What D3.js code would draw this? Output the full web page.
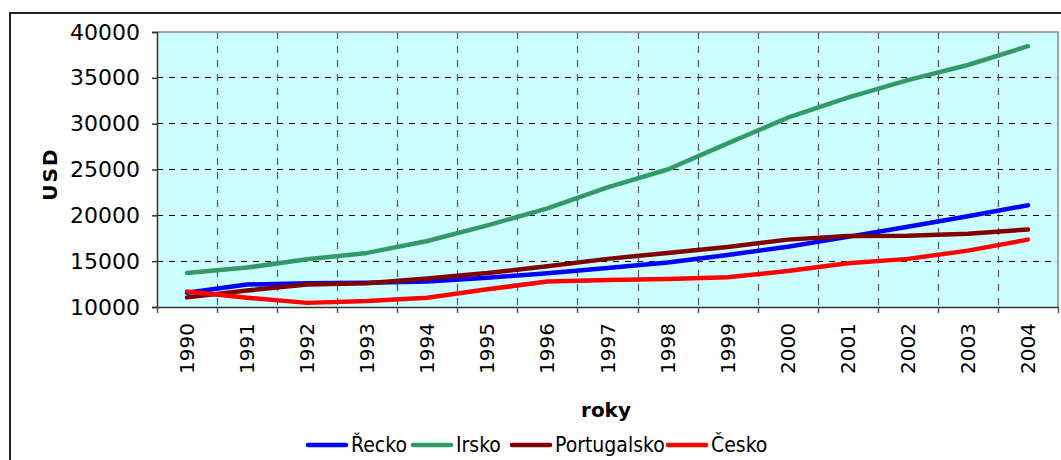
<!DOCTYPE html>
<html>
<head>
<meta charset="utf-8">
<script src="https://cdn.jsdelivr.net/npm/d3@7"></script>
<style>
  html, body { margin: 0; padding: 0; background: #fff; }
  svg { display: block; }
  text { font-family: "DejaVu Sans", Verdana, sans-serif; fill: #000; }
</style>
</head>
<body>
<svg id="chart" width="1061" height="460"></svg>
<script>
const years = ["1990","1991","1992","1993","1994","1995","1996","1997","1998","1999","2000","2001","2002","2003","2004"];
const recko =       [11550, 12450, 12580, 12650, 12780, 13200, 13680, 14250, 14850, 15680, 16580, 17650, 18750, 19900, 21100];
const irsko =       [13700, 14300, 15200, 15900, 17200, 18900, 20750, 23050, 25000, 27850, 30650, 32850, 34750, 36400, 38450];
const portugalsko = [11050, 11800, 12450, 12600, 13100, 13700, 14450, 15250, 15900, 16550, 17350, 17750, 17780, 18000, 18450];
const cesko =       [11680, 11020, 10450, 10650, 11020, 11930, 12780, 12950, 13050, 13240, 13930, 14780, 15250, 16150, 17350];
const yTicks = [10000, 15000, 20000, 25000, 30000, 35000, 40000];
const seriesNames = ["Řecko", "Irsko", "Portugalsko", "Česko"];
const seriesColors = ["#0000FF", "#339966", "#800000", "#FF0000"];
const seriesValues = [recko, irsko, portugalsko, cesko];

const svg = d3.select("#chart");
const L = 157, R = 1058, T = 32, B = 307;

// outer frame
svg.append("rect").attr("x", 10).attr("y", 13).attr("width", 1100).attr("height", 500)
  .attr("fill", "#fff").attr("stroke", "#222").attr("stroke-width", 2);

const x = d3.scaleBand().domain(years).range([L, R]).padding(0);
const y = d3.scaleLinear().domain([10000, 40000]).range([B, T]);
const cx = d => x(d) + x.bandwidth() / 2;

// plot background
svg.append("rect").attr("x", L).attr("y", T).attr("width", R - L).attr("height", B - T)
  .attr("fill", "#CCFFFF");

// horizontal grid
svg.append("g").selectAll("line").data(yTicks.filter(v => v > 10000 && v < 40000)).join("line")
  .attr("x1", L).attr("x2", R).attr("y1", d => y(d)).attr("y2", d => y(d))
  .attr("stroke", "#000").attr("stroke-width", 1).attr("stroke-dasharray", "6,6")
  .attr("shape-rendering", "crispEdges");

// vertical grid at category boundaries
svg.append("g").selectAll("line").data(years.slice(1)).join("line")
  .attr("x1", d => Math.round(x(d)) + 0.5).attr("x2", d => Math.round(x(d)) + 0.5)
  .attr("y1", T).attr("y2", B)
  .attr("stroke", "#555").attr("stroke-width", 1.2).attr("stroke-dasharray", "7,7");

// plot border top/right (gray)
svg.append("path").attr("d", `M${L},${T}H${R}V${B}`).attr("fill", "none")
  .attr("stroke", "#888").attr("stroke-width", 1.5);

// y axis
const yAxis = svg.append("g").attr("transform", `translate(${L},0)`)
  .call(d3.axisLeft(y).tickValues(yTicks).tickFormat(d3.format("d")).tickSize(5).tickPadding(12));
yAxis.select(".domain").attr("stroke", "#333").attr("stroke-width", 1.5);
yAxis.selectAll(".tick line").attr("stroke", "#333").attr("stroke-width", 1.5);
yAxis.selectAll("text").attr("font-size", 22).attr("font-family", "DejaVu Sans, sans-serif").attr("fill", "#000");

// x axis: labels at centers, ticks at boundaries
const xAxis = svg.append("g").attr("transform", `translate(0,${B})`)
  .call(d3.axisBottom(x).tickSize(0).tickPadding(0));
xAxis.select(".domain").attr("stroke", "#333").attr("stroke-width", 1.5);
xAxis.selectAll("text")
  .attr("font-size", 20).attr("font-family", "DejaVu Sans, sans-serif").attr("fill", "#000")
  .attr("transform", "rotate(-90)")
  .attr("text-anchor", "end").attr("x", -16).attr("y", 0).attr("dy", "0.35em");
const bounds = years.map(d => x(d)).concat([R]);
svg.append("g").selectAll("line").data(bounds).join("line")
  .attr("x1", d => Math.round(d) + 0.5).attr("x2", d => Math.round(d) + 0.5)
  .attr("y1", B).attr("y2", B + 6).attr("stroke", "#555").attr("stroke-width", 1.5);

// lines
const line = d3.line().x((d, i) => cx(years[i])).y(d => y(d));
seriesValues.forEach((vals, i) => {
  svg.append("path").datum(vals).attr("d", line).attr("fill", "none")
    .attr("stroke", seriesColors[i]).attr("stroke-width", 4.5)
    .attr("stroke-linecap", "round").attr("stroke-linejoin", "round");
});

// axis titles
svg.append("text").attr("transform", `translate(57,174) rotate(-90)`).attr("text-anchor", "middle")
  .attr("font-size", 20).attr("font-weight", "bold").attr("letter-spacing", 2).text("USD");
svg.append("text").attr("x", 606).attr("y", 417).attr("text-anchor", "middle")
  .attr("font-size", 20).attr("font-weight", "bold").text("roky");

// legend
const legendX = [308, 413, 512, 668];
const lg = svg.append("g");
seriesNames.forEach((n, i) => {
  lg.append("line").attr("x1", legendX[i]).attr("x2", legendX[i] + 38).attr("y1", 445).attr("y2", 445)
    .attr("stroke", seriesColors[i]).attr("stroke-width", 4.5).attr("stroke-linecap", "round");
  lg.append("text").attr("x", legendX[i] + 43).attr("y", 452)
    .attr("font-size", 21).attr("font-family", "DejaVu Sans Condensed, DejaVu Sans, sans-serif")
    .attr("font-stretch", "condensed").text(n);
});
</script>
</body>
</html>
